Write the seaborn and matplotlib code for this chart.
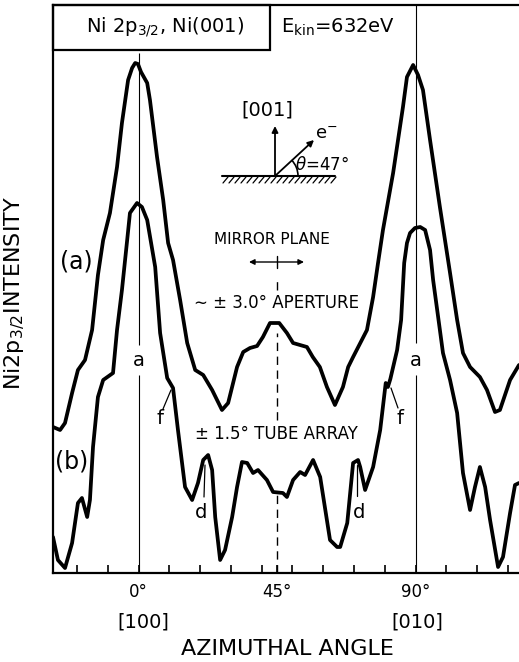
import numpy as np
import pandas as pd
import matplotlib
matplotlib.use("Agg")
import matplotlib.pyplot as plt
import seaborn as sns
from matplotlib.patches import Arc, Rectangle

# ---- data (azimuthal angle in degrees, intensity in arbitrary units) ----
angle_a = [-27.8, -25.5, -23.9, -21.6, -19.7, -17.4, -15.1, -13.2, -11.5, -9.3,
           -7.0, -5.4, -3.4, -2.1, -1.1, -0.2, 0.8, 2.8, 3.7, 6.0,
           8.0, 9.6, 11.2, 13.5, 15.8, 18.4, 21.0, 23.9, 27.1, 29.1,
           32.0, 34.0, 36.2, 38.5, 40.4, 42.7, 45.7, 48.2, 50.2, 54.7,
           56.6, 58.9, 61.2, 63.8, 66.4, 68.1, 69.7, 74.2, 76.2, 77.8,
           79.4, 82.7, 85.9, 87.2, 89.2, 90.8, 92.4, 94.7, 97.9, 101.2,
           103.5, 105.4, 107.7, 110.9, 113.2, 115.8, 117.4, 120.7, 123.6]
intensity_a = [146, 143, 150, 180, 203, 213, 243, 298, 333, 360,
               406, 450, 493, 505, 510, 509, 501, 490, 473, 416,
               373, 330, 313, 273, 230, 203, 198, 183, 163, 170,
               206, 221, 225, 227, 236, 250, 250, 240, 230, 226,
               216, 206, 186, 168, 186, 206, 216, 243, 276, 310,
               343, 400, 466, 496, 508, 498, 483, 433, 366, 300,
               253, 220, 206, 196, 183, 161, 163, 193, 208]

angle_b = [-27.8, -26.2, -23.9, -21.6, -19.7, -18.4, -16.7, -15.8, -14.8, -13.2,
           -11.5, -8.3, -7.0, -5.4, -3.7, -2.8, -0.5, 1.1, 2.8, 5.4,
           7.0, 9.3, 11.2, 12.8, 15.1, 17.4, 19.3, 21.0, 22.6, 23.9,
           24.9, 26.5, 28.1, 30.4, 32.0, 33.6, 35.3, 37.2, 38.8, 41.7,
           43.7, 46.9, 48.2, 50.2, 52.5, 54.1, 56.7, 59.0, 62.2, 64.5,
           65.5, 67.8, 69.7, 71.3, 72.0, 73.6, 76.2, 78.5, 80.3, 81.0,
           81.8, 84.0, 85.3, 86.3, 87.2, 88.2, 89.8, 91.5, 93.1, 94.7,
           95.7, 97.9, 98.9, 101.2, 103.5, 105.4, 107.7, 109.3, 110.9, 112.6,
           114.2, 116.8, 118.4, 120.7, 122.3, 123.6]
intensity_b = [36, 13, 5, 30, 70, 75, 56, 73, 126, 176,
               193, 200, 243, 283, 333, 360, 370, 366, 353, 306,
               240, 195, 185, 143, 86, 73, 90, 113, 118, 103,
               56, 13, 23, 56, 86, 111, 110, 100, 103, 93,
               81, 80, 76, 93, 101, 98, 113, 96, 33, 26,
               26, 50, 110, 113, 106, 83, 106, 143, 190, 186,
               194, 223, 253, 310, 330, 340, 345, 346, 343, 323,
               293, 243, 220, 193, 160, 100, 63, 86, 106, 86,
               53, 6, 16, 60, 88, 90]

major_ticks = [0, 45, 90]
major_labels = ["0°", "45°", "90°"]
minor_ticks = list(range(-20, 121, 10))
direction_labels = ["[100]", "[010]"]

# ---- style ----
sns.set_theme(style="white")
plt.rcParams['font.family'] = ['DejaVu Sans']
plt.rcParams['mathtext.fontset'] = 'dejavusans'
plt.rcParams['text.color'] = 'black'
plt.rcParams['axes.labelcolor'] = 'black'
plt.rcParams['xtick.color'] = 'black'
plt.rcParams['ytick.color'] = 'black'

W, H = 519, 662
fig = plt.figure(figsize=(W / 100, H / 100), dpi=100)
fig.patch.set_facecolor("white")
L, R, B, T = 53, 519, 573, 5
ax = fig.add_axes([L / W, (H - B) / H, (R - L) / W, (B - T) / H])
ax.set_facecolor("white")

df_a = pd.DataFrame({"angle": angle_a, "intensity": intensity_a})
df_b = pd.DataFrame({"angle": angle_b, "intensity": intensity_b})
for df in (df_a, df_b):
    sns.lineplot(data=df, x="angle", y="intensity", ax=ax, color="black",
                 lw=2.7, sort=False, estimator=None,
                 solid_joinstyle="round", solid_capstyle="round")

ax.set_xlim(-27.8, 123.6)
ax.set_ylim(0, 568)
ax.set_xlabel("")
ax.set_ylabel("")
ax.set_yticks([])
ax.set_xticks(major_ticks)
ax.set_xticklabels(major_labels)
ax.set_xticks(minor_ticks, minor=True)
ax.tick_params(axis="x", which="both", direction="in", length=6, width=1.2,
               bottom=True, top=False, pad=7, labelsize=12, colors="black")
for s in ("left", "bottom", "top"):
    ax.spines[s].set_visible(True)
    ax.spines[s].set_color("black")
    ax.spines[s].set_linewidth(1.6)
ax.spines["right"].set_visible(False)

# reference lines
ax.vlines(0, 0, 198, color="black", lw=0.8)
ax.vlines(0, 228, 520, color="black", lw=0.8)
ax.vlines(90, 0, 198, color="black", lw=0.8)
ax.vlines(90, 230, 568, color="black", lw=0.8)
for lo, hi in [(0, 80), (153, 240), (283, 295)]:
    ax.vlines(45, lo, hi, color="black", lw=1.0, linestyles=(0, (6, 4)))

# ---- overlay in pixel coordinates for annotations ----
ov = fig.add_axes([0, 0, 1, 1], zorder=5)
ov.set_xlim(0, W)
ov.set_ylim(H, 0)
ov.axis("off")

ov.add_patch(Rectangle((53, 5), 217, 45, fill=False, lw=1.6, ec="black"))
ov.text(165, 27, r"Ni 2p$_{3/2}$, Ni(001)", fontsize=14, ha="center", va="center")
ov.text(338, 27, r"E$_{\mathrm{kin}}$=632eV", fontsize=14, ha="center", va="center")

ov.text(15, 293, r"Ni2p$_{3/2}$INTENSITY", fontsize=16, rotation=90,
        ha="center", va="center")
ov.text(76, 262, "(a)", fontsize=17, ha="center", va="center")
ov.text(72, 461, "(b)", fontsize=17, ha="center", va="center")

for x in (139, 416):
    ov.text(x, 360, "a", fontsize=14, ha="center", va="center")
ov.text(160, 419, "f", fontsize=14, ha="center", va="center")
ov.plot([163, 171], [409, 390], color="black", lw=0.9)
ov.text(400, 419, "f", fontsize=14, ha="center", va="center")
ov.plot([398, 391], [408, 388], color="black", lw=0.9)
ov.text(201, 513, "d", fontsize=14, ha="center", va="center")
ov.plot([204, 205], [497, 465], color="black", lw=0.9)
ov.text(359, 513, "d", fontsize=14, ha="center", va="center")
ov.plot([357, 357], [496, 465], color="black", lw=0.9)

ov.text(272, 239, "MIRROR PLANE", fontsize=11, ha="center", va="center")
ov.annotate("", xy=(304, 262), xytext=(249, 262),
            arrowprops=dict(arrowstyle="<|-|>", lw=1.0, color="black",
                            mutation_scale=8, shrinkA=0, shrinkB=0))
ov.plot([277, 277], [256, 268], color="black", lw=1.0)
ov.text(276, 303, "∼ ± 3.0° APERTURE", fontsize=12, ha="center", va="center")
ov.text(276, 434, "± 1.5° TUBE ARRAY", fontsize=12, ha="center", va="center")

for x, lab in zip((143, 417), direction_labels):
    ov.text(x, 622, lab, fontsize=14, ha="center", va="center")
ov.text(287, 649, "AZIMUTHAL ANGLE", fontsize=16, ha="center", va="center")

# inset geometry sketch
ov.text(267, 110, "[001]", fontsize=14, ha="center", va="center")
ov.annotate("", xy=(275, 126), xytext=(275, 176),
            arrowprops=dict(arrowstyle="-|>", lw=1.3, color="black",
                            mutation_scale=9, shrinkA=0, shrinkB=0))
ov.annotate("", xy=(314, 140), xytext=(275, 176),
            arrowprops=dict(arrowstyle="-|>", lw=1.3, color="black",
                            mutation_scale=9, shrinkA=0, shrinkB=0))
ov.text(326, 134, r"e$^{-}$", fontsize=13, ha="center", va="center")
ov.text(322, 165, r"$\theta$=47°", fontsize=12, ha="center", va="center")
ov.add_patch(Arc((275, 176), 46, 46, theta1=-44, theta2=0, lw=1.2, color="black"))
ov.plot([222, 335], [176, 176], color="black", lw=1.5)
for x in range(223, 333, 6):
    ov.plot([x, x + 5], [183, 177], color="black", lw=0.9)

fig.savefig("out.png", dpi=100)
